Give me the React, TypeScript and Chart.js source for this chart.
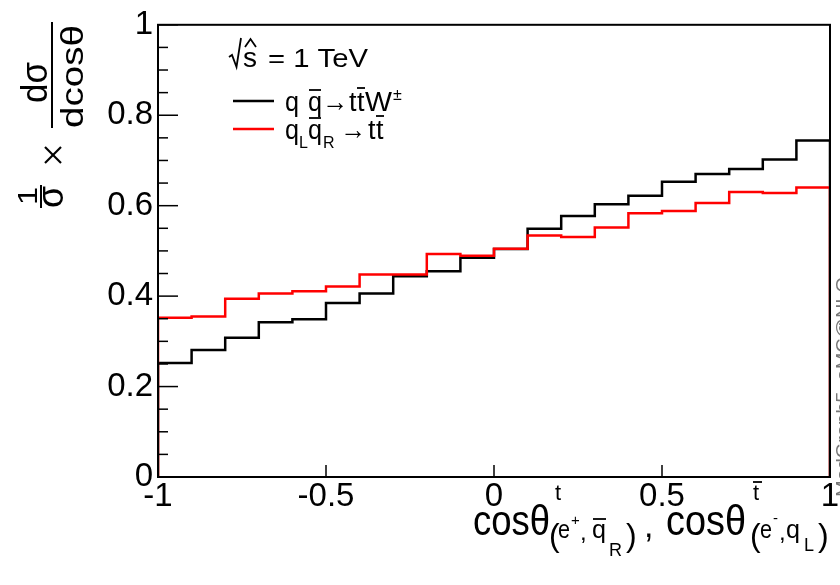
import React, { useEffect, useRef } from "react";
import { Chart, registerables } from "chart.js";

Chart.register(...registerables);

// ---------- data ----------
const binEdges = [-1, -0.9, -0.8, -0.7, -0.6, -0.5, -0.4, -0.3, -0.2, -0.1, 0, 0.1, 0.2, 0.3, 0.4, 0.5, 0.6, 0.7, 0.8, 0.9, 1];
const ttWValues = [0.252, 0.281, 0.308, 0.342, 0.349, 0.385, 0.406, 0.444, 0.455, 0.485, 0.504, 0.549, 0.577, 0.603, 0.622, 0.653, 0.670, 0.681, 0.702, 0.744];
const ttValues = [0.352, 0.355, 0.394, 0.406, 0.411, 0.421, 0.448, 0.448, 0.493, 0.489, 0.505, 0.534, 0.531, 0.552, 0.583, 0.588, 0.606, 0.630, 0.628, 0.640];
const xTicks = [-1, -0.5, 0, 0.5, 1];
const xTickLabels = ["-1", "-0.5", "0", "0.5", "1"];
const yTicks = [0, 0.2, 0.4, 0.6, 0.8, 1];
const yTickLabels = ["0", "0.2", "0.4", "0.6", "0.8", "1"];
const sideText = "MadGraph5_aMC@NLO";

const FONT = '"Liberation Sans", Arial, Helvetica, sans-serif';

function histPoints(values: number[]) {
  const pts: { x: number; y: number }[] = [{ x: binEdges[0], y: 0 }];
  values.forEach((v, i) => pts.push({ x: binEdges[i], y: v }));
  pts.push({ x: binEdges[binEdges.length - 1], y: values[values.length - 1] });
  pts.push({ x: binEdges[binEdges.length - 1], y: 0 });
  return pts;
}

type Seg = { t: string; x: number; y: number; size: number; w?: number; color?: string };

function drawSeg(ctx: CanvasRenderingContext2D, s: Seg) {
  ctx.save();
  ctx.font = `${s.size}px ${FONT}`;
  ctx.textBaseline = "alphabetic";
  ctx.textAlign = "left";
  ctx.fillStyle = s.color || "#000";
  const m = ctx.measureText(s.t).width;
  const sx = s.w ? s.w / m : 1;
  ctx.translate(s.x, s.y);
  ctx.scale(sx, 1);
  ctx.fillText(s.t, 0, 0);
  ctx.restore();
}

// rotated (-90deg) text: bx = screen x of baseline, by = screen y where text starts (bottom)
function drawRot(ctx: CanvasRenderingContext2D, t: string, bx: number, by: number, size: number, w?: number, color?: string) {
  ctx.save();
  ctx.font = `${size}px ${FONT}`;
  ctx.textBaseline = "alphabetic";
  ctx.textAlign = "left";
  ctx.fillStyle = color || "#000";
  const m = ctx.measureText(t).width;
  const sx = w ? w / m : 1;
  ctx.translate(bx, by);
  ctx.rotate(-Math.PI / 2);
  ctx.scale(sx, 1);
  ctx.fillText(t, 0, 0);
  ctx.restore();
}

function line(ctx: CanvasRenderingContext2D, x1: number, y1: number, x2: number, y2: number, lw: number, color = "#000") {
  ctx.save();
  ctx.strokeStyle = color;
  ctx.lineWidth = lw;
  ctx.beginPath();
  ctx.moveTo(x1, y1);
  ctx.lineTo(x2, y2);
  ctx.stroke();
  ctx.restore();
}

const decorPlugin = {
  id: "rootDecor",
  afterDraw(chart: any) {
    const ctx: CanvasRenderingContext2D = chart.ctx;
    const { left, right, top, bottom } = chart.chartArea;
    const xs = chart.scales.x;
    const ys = chart.scales.y;

    // frame
    ctx.save();
    ctx.strokeStyle = "#000";
    ctx.lineWidth = 2;
    ctx.strokeRect(left, top, right - left, bottom - top);
    ctx.restore();

    // y ticks (inward), majors + 3 minors between
    for (let i = 0; i < yTicks.length; i++) {
      const py = ys.getPixelForValue(yTicks[i]);
      line(ctx, left, py, left + 20, py, 1.5);
      if (i < yTicks.length - 1) {
        const d = (yTicks[i + 1] - yTicks[i]) / 4;
        for (let k = 1; k < 4; k++) {
          const pm = ys.getPixelForValue(yTicks[i] + k * d);
          line(ctx, left, pm, left + 10, pm, 1.5);
        }
      }
    }
    // x ticks (inward)
    for (const v of xTicks) {
      const px = xs.getPixelForValue(v);
      line(ctx, px, bottom, px, bottom - 12, 1.5);
    }

    // ---- y title (rotated) ----
    drawRot(ctx, "d\u03c3", 47, 103, 36, 41);
    line(ctx, 52, 22, 52, 128, 2);
    drawRot(ctx, "dcos\u03b8", 83, 128, 31, 103);
    line(ctx, 45, 147, 61, 163, 2.2);
    line(ctx, 45, 163, 61, 147, 2.2);
    drawRot(ctx, "1", 37, 205, 28, 18);
    line(ctx, 41, 185, 41, 208, 2);
    drawRot(ctx, "\u03c3", 63, 208, 36, 22);

    // ---- x title ----
    const xt: Seg[] = [
      { t: "cos\u03b8", x: 473, y: 535, size: 42, w: 77 },
      { t: "t", x: 555, y: 500, size: 22 },
      { t: "(", x: 549, y: 546, size: 32 },
      { t: "e", x: 558, y: 538, size: 26, w: 12 },
      { t: "+", x: 571, y: 525, size: 15 },
      { t: ",", x: 580, y: 540, size: 24 },
      { t: "q", x: 592, y: 538, size: 26, w: 14 },
      { t: "R", x: 609, y: 556, size: 18 },
      { t: ")", x: 626, y: 546, size: 32 },
      { t: ",", x: 644, y: 537, size: 34 },
      { t: "cos\u03b8", x: 666, y: 535, size: 42, w: 80 },
      { t: "t", x: 753, y: 500, size: 22 },
      { t: "(", x: 750, y: 546, size: 32 },
      { t: "e", x: 760, y: 538, size: 26, w: 12 },
      { t: "-", x: 773, y: 523, size: 15 },
      { t: ",", x: 779, y: 540, size: 24 },
      { t: "q", x: 786, y: 538, size: 26, w: 14 },
      { t: "L", x: 804, y: 551, size: 18 },
      { t: ")", x: 818, y: 546, size: 32 },
    ];
    xt.forEach((s) => drawSeg(ctx, s));
    line(ctx, 593, 519, 606, 519, 1.8);
    line(ctx, 753, 482, 762, 482, 1.8);

    // ---- legend ----
    ctx.save();
    ctx.strokeStyle = "#000";
    ctx.lineWidth = 1.8;
    ctx.beginPath();
    ctx.moveTo(229, 57);
    ctx.lineTo(232, 55);
    ctx.lineTo(236.5, 67);
    ctx.lineTo(241, 38);
    ctx.stroke();
    ctx.beginPath();
    ctx.moveTo(245, 47);
    ctx.lineTo(250.5, 39);
    ctx.lineTo(256, 47);
    ctx.stroke();
    ctx.restore();
    const lg: Seg[] = [
      { t: "s", x: 243, y: 67, size: 27, w: 14 },
      { t: "= 1 TeV", x: 268, y: 67, size: 25, w: 100 },
      { t: "q", x: 285, y: 111, size: 27, w: 14 },
      { t: "q", x: 308, y: 111, size: 27, w: 14 },
      { t: "\u2192", x: 322, y: 111, size: 28, w: 26 },
      { t: "t", x: 349, y: 111, size: 27 },
      { t: "t", x: 357, y: 111, size: 27 },
      { t: "W", x: 365, y: 111, size: 27, w: 27 },
      { t: "\u00b1", x: 393, y: 100, size: 16 },
      { t: "q", x: 285, y: 139, size: 27, w: 14 },
      { t: "L", x: 299, y: 148, size: 16 },
      { t: "q", x: 308, y: 139, size: 27, w: 14 },
      { t: "R", x: 323, y: 148, size: 16 },
      { t: "\u2192", x: 340, y: 139, size: 28, w: 26 },
      { t: "t", x: 368, y: 139, size: 27 },
      { t: "t", x: 376, y: 139, size: 27 },
    ];
    lg.forEach((s) => drawSeg(ctx, s));
    line(ctx, 309, 90, 321, 90, 1.8);
    line(ctx, 357, 88, 365, 88, 1.8);
    line(ctx, 309, 118, 321, 118, 1.8);
    line(ctx, 376, 116, 384, 116, 1.8);
    line(ctx, 233, 101, 274, 101, 2.5, "#000");
    line(ctx, 233, 129, 274, 129, 2.5, "#ff0000");

    // ---- side text ----
    drawRot(ctx, sideText, 849, 497, 19, 220, "#777");
  },
};

export default function App() {
  const ref = useRef<HTMLCanvasElement | null>(null);

  useEffect(() => {
    if (!ref.current) return;
    const tickFont = { family: FONT, size: 33, lineHeight: 1.2 };
    const chart = new Chart(ref.current, {
      type: "line",
      data: {
        datasets: [
          {
            label: "q qbar -> t tbar W",
            data: histPoints(ttWValues),
            borderColor: "#000000",
            borderWidth: 2.5,
            stepped: "before",
            pointRadius: 0,
            fill: false,
            order: 1,
          },
          {
            label: "qL qbarR -> t tbar",
            data: histPoints(ttValues),
            borderColor: "#ff0000",
            borderWidth: 2.5,
            stepped: "before",
            pointRadius: 0,
            fill: false,
            order: 0,
          },
        ],
      },
      options: {
        animation: false,
        responsive: false,
        maintainAspectRatio: false,
        parsing: false as any,
        layout: { padding: { top: 22, right: 10, left: 0, bottom: 0 } },
        plugins: { legend: { display: false }, tooltip: { enabled: false } },
        scales: {
          x: {
            type: "linear",
            min: -1,
            max: 1,
            grid: { display: false, drawTicks: false },
            border: { display: false },
            afterBuildTicks: (s: any) => {
              s.ticks = xTicks.map((v) => ({ value: v }));
            },
            afterFit: (s: any) => {
              s.height = 108;
            },
            ticks: {
              autoSkip: false,
              maxRotation: 0,
              minRotation: 0,
              padding: 0,
              color: "#000",
              font: tickFont,
              callback: (_v: any, i: number) => xTickLabels[i],
            },
          },
          y: {
            type: "linear",
            min: 0,
            max: 1,
            grid: { display: false, drawTicks: false },
            border: { display: false },
            afterBuildTicks: (s: any) => {
              s.ticks = yTicks.map((v) => ({ value: v }));
            },
            afterFit: (s: any) => {
              s.width = 158;
            },
            ticks: {
              autoSkip: false,
              padding: 5,
              color: "#000",
              font: tickFont,
              callback: (_v: any, i: number) => yTickLabels[i],
            },
          },
        },
      },
      plugins: [decorPlugin],
    });
    return () => chart.destroy();
  }, []);

  return (
    <div style={{ position: "absolute", left: 0, top: 0, width: 840, height: 585, background: "#fff" }}>
      <canvas ref={ref} width={840} height={585} style={{ display: "block", width: 840, height: 585 }} />
    </div>
  );
}
